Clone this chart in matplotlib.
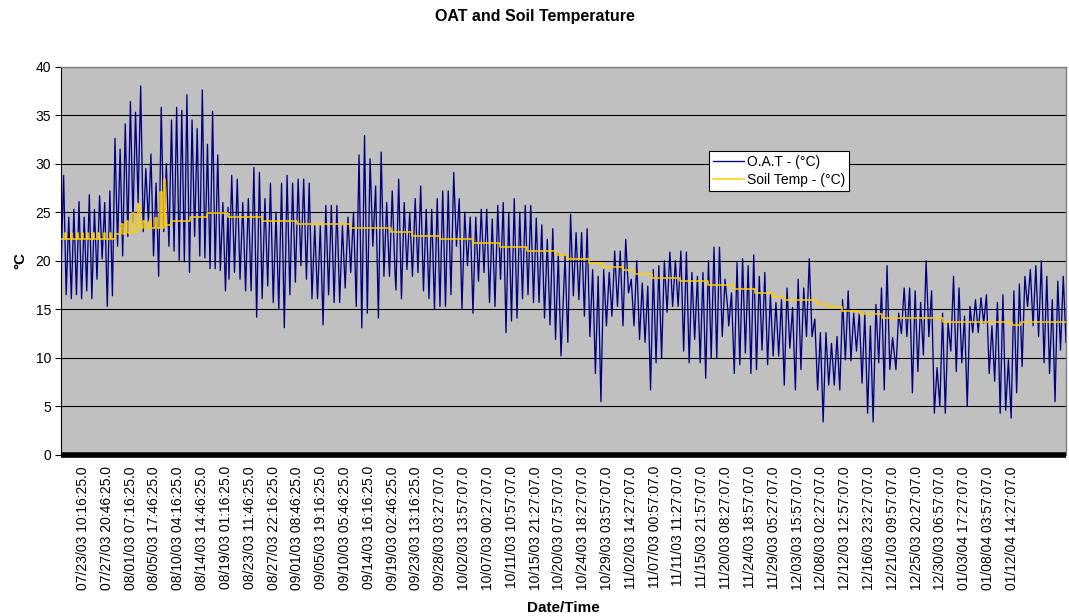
"""OAT vs soil temperature, Jul 2003 - Jan 2004 (Excel-style category chart)."""
import numpy as np
import matplotlib; matplotlib.use("Agg"); import matplotlib.pyplot as plt

plt.rcParams["font.family"] = ["Liberation Sans", "DejaVu Sans"]

# x positions are in units of "label intervals" (one label every 106.5 h of samples)
TICK_LABELS = ["07/23/03 10:16:25.0", "07/27/03 20:46:25.0", "08/01/03 07:16:25.0", "08/05/03 17:46:25.0",
               "08/10/03 04:16:25.0", "08/14/03 14:46:25.0", "08/19/03 01:16:25.0", "08/23/03 11:46:25.0",
               "08/27/03 22:16:25.0", "09/01/03 08:46:25.0", "09/05/03 19:16:25.0", "09/10/03 05:46:25.0",
               "09/14/03 16:16:25.0", "09/19/03 02:46:25.0", "09/23/03 13:16:25.0", "09/28/03 03:27:07.0",
               "10/02/03 13:57:07.0", "10/07/03 00:27:07.0", "10/11/03 10:57:07.0", "10/15/03 21:27:07.0",
               "10/20/03 07:57:07.0", "10/24/03 18:27:07.0", "10/29/03 03:57:07.0", "11/02/03 14:27:07.0",
               "11/07/03 00:57:07.0", "11/11/03 11:27:07.0", "11/15/03 21:57:07.0", "11/20/03 08:27:07.0",
               "11/24/03 18:57:07.0", "11/29/03 05:27:07.0", "12/03/03 15:57:07.0", "12/08/03 02:27:07.0",
               "12/12/03 12:57:07.0", "12/16/03 23:27:07.0", "12/21/03 09:57:07.0", "12/25/03 20:27:07.0",
               "12/30/03 06:57:07.0", "01/03/04 17:27:07.0", "01/08/04 03:57:07.0", "01/12/04 14:27:07.0"]

# O.A.T daily highs/lows, in six consecutive stretches
oat_jul_aug = [19.1, 28.8, 16.5, 24.5, 16.1, 25.3, 16.5, 26.1, 16.1, 24.5, 16.9, 26.8, 16.1, 25.3, 18.1, 26.7,
               20.2, 26.0, 15.3, 27.2, 16.4, 32.6, 21.5, 31.5, 20.5, 34.1, 22.5, 36.4, 24.0, 35.3, 26.0, 38.0,
               23.0, 29.5, 24.0, 31.0, 20.5, 28.0, 18.4, 35.8, 23.0, 30.0, 21.5, 34.5, 21.0, 35.8, 20.0, 35.5,
               19.9, 37.1, 18.8, 34.5, 22.5, 33.6, 20.5, 37.6, 20.3, 32.0, 19.2, 35.4, 19.2, 30.9, 19.0, 26.0,
               16.9, 25.5]
oat_aug_sep = [18.1, 28.8, 18.8, 28.4, 18.1, 26.0, 16.9, 26.4, 16.9, 29.6, 14.2, 29.1, 16.1, 26.4, 17.4, 28.0,
               15.7, 25.0, 15.0, 28.0, 13.1, 28.8, 16.5, 28.0, 17.8, 28.4, 19.5, 28.4, 18.1, 28.0, 16.1, 23.6,
               16.1, 23.6, 13.4, 25.7, 16.5, 25.7, 15.7, 25.7, 15.7, 23.6, 17.2, 24.5, 18.8, 25.0, 15.3, 30.9,
               13.1, 32.9, 14.6, 30.5, 21.5, 27.7, 14.1, 31.2, 18.4, 26.0, 18.4, 27.2, 18.8]
oat_sep_oct = [17.0, 28.4, 16.1, 26.0, 19.1, 25.0, 18.4, 26.4, 18.8, 27.7, 16.9, 25.3, 16.1, 25.3, 15.0, 26.4,
               15.3, 27.2, 15.3, 27.2, 16.5, 29.1, 21.5, 26.4, 15.0, 25.0, 19.5, 24.5, 14.6, 24.5, 17.9, 25.3,
               18.8, 25.3, 15.7, 24.3, 15.3, 25.7, 18.1, 26.0, 12.6, 25.0, 13.8, 26.4, 14.1, 25.0, 16.1, 25.7,
               16.5, 25.7, 15.7, 24.4, 15.7, 23.7, 14.1, 22.2, 13.4, 23.3, 11.9, 20.7, 10.2]
oat_oct_nov = [20.5, 11.6, 24.8, 16.4, 22.9, 16.0, 22.9, 14.3, 23.3, 12.2, 19.1, 8.4, 18.4, 5.5, 19.1, 13.3,
               18.8, 14.3, 21.0, 15.3, 21.0, 13.3, 22.2, 16.7, 18.1, 13.3, 20.0, 11.9, 17.7, 11.6, 17.4, 6.7,
               19.1, 9.5, 19.5, 10.0, 20.0, 14.7, 20.9, 15.3, 20.0, 15.3, 21.0, 10.7, 20.9, 9.5, 18.8, 11.9,
               18.4, 9.5, 18.8, 7.9, 20.0, 10.0, 21.4, 10.0, 21.4, 12.2, 18.1, 15.0]
oat_nov_dec = [13.3, 16.7, 8.4, 19.8, 9.3, 20.2, 10.5, 19.5, 8.4, 20.6, 8.8, 18.4, 10.8, 18.8, 9.3, 16.5,
               10.2, 15.7, 10.2, 16.0, 7.2, 17.2, 11.0, 15.2, 6.7, 18.1, 8.8, 17.2, 12.2, 20.2, 12.2, 14.0,
               6.7, 12.6, 3.4, 12.6, 7.2, 11.5, 7.2, 12.2, 6.7, 16.0, 9.8, 16.9, 9.7, 14.6, 10.7, 14.6,
               7.4, 14.6, 4.3, 13.3, 3.4, 15.5, 9.5, 17.2, 6.7, 19.5, 8.8, 12.1]
oat_dec_jan = [8.8, 14.6, 12.5, 17.2, 12.2, 17.2, 6.4, 16.9, 8.6, 15.7, 10.3, 20.0, 12.2, 16.9, 4.3, 9.0,
               5.0, 14.6, 4.3, 13.6, 10.7, 18.4, 8.6, 17.2, 9.5, 14.3, 5.0, 15.3, 12.6, 16.0, 12.6, 16.2,
               13.6, 16.5, 8.4, 13.3, 7.6, 15.7, 4.3, 16.5, 4.6, 9.8, 3.8, 16.9, 6.4, 17.6, 9.1, 18.4,
               15.3, 19.1, 13.3, 19.5, 12.2, 20.0, 9.5, 18.4, 8.4, 16.0, 5.5, 17.9, 10.8, 18.4, 11.6]
OAT_SEGMENTS = [oat_jul_aug, oat_aug_sep, oat_sep_oct, oat_oct_nov, oat_nov_dec, oat_dec_jan]
# time span (label units) covered by each stretch
OAT_SPANS = [(-0.92, 6.09), (6.13, 13.10), (13.14, 20.07), (20.24, 27.07), (27.11, 33.99), (34.13, 41.27)]

# soil temperature: step changes (label units, deg C)
soil_x = [-0.92, -0.76, -0.70, -0.50, -0.44, -0.25, -0.19, -0.04, 0.02, 0.17, 0.23, 0.42, 0.48, 0.63, 0.69,
          0.88, 0.94, 1.13, 1.19, 1.34, 1.60, 1.68, 1.81, 1.89, 2.06, 2.14, 2.31, 2.39, 2.52, 2.60, 2.77, 2.85,
          3.02, 3.11, 3.23, 3.32, 3.40, 3.46, 3.69, 4.49, 5.21, 6.09, 7.51, 8.98, 11.21, 12.93, 13.81, 14.99,
          16.37, 17.51, 18.64, 19.86, 20.32, 21.24, 21.79, 22.67, 23.17, 23.89, 25.06, 26.24, 27.33, 28.21,
          28.97, 29.47, 30.81, 31.28, 31.86, 32.62, 33.54, 36.10, 39.00, 39.40, 41.27]
soil_y = [22.2, 22.9, 22.2, 22.9, 22.2, 22.9, 22.2, 22.9, 22.2, 22.9, 22.2, 22.9, 22.2, 22.9, 22.2,
          22.9, 22.2, 22.9, 22.2, 22.8, 23.8, 22.8, 24.1, 22.9, 24.9, 23.0, 25.7, 23.4, 24.1, 23.4, 24.1, 23.4,
          24.4, 23.4, 27.1, 23.4, 28.4, 23.7, 24.1, 24.5, 24.9, 24.5, 24.1, 23.8, 23.4, 23.0, 22.6, 22.2,
          21.8, 21.4, 21.0, 20.6, 20.2, 19.8, 19.4, 19.0, 18.6, 18.2, 17.9, 17.5, 17.1, 16.7,
          16.3, 16.0, 15.6, 15.2, 14.8, 14.5, 14.1, 13.7, 13.4, 13.7, 13.7]


def main():
    fig = plt.figure(figsize=(10.69, 6.16), dpi=100)
    ax = fig.add_axes([0.0571, 0.2614, 0.9401, 0.6305])
    ax.set_facecolor("#C0C0C0")

    xs = np.concatenate([np.linspace(a, b, len(seg)) for (a, b), seg in zip(OAT_SPANS, OAT_SEGMENTS)])
    ys = np.concatenate([np.asarray(s, float) for s in OAT_SEGMENTS])
    ax.plot(xs, ys, color="#000080", lw=0.95, label="O.A.T - (°C)", zorder=3)
    ax.plot(soil_x, soil_y, color="#FFCC00", lw=1.1, drawstyle="steps-post", label="Soil Temp - (°C)", zorder=4)

    ax.set_xlim(-0.92, 41.27); ax.set_ylim(0, 40)
    ax.set_yticks(np.arange(0, 41, 5))
    ax.yaxis.grid(True, color="black", lw=0.8); ax.set_axisbelow(True)
    ax.tick_params(axis="y", labelsize=10, length=4, width=0.8, direction="out", pad=3)
    ax.set_xticks(np.arange(len(TICK_LABELS)))
    ax.set_xticklabels(TICK_LABELS, rotation=90, fontsize=10)
    ax.tick_params(axis="x", length=0, pad=8)
    for side in ("top", "right"):
        ax.spines[side].set_color("#808080"); ax.spines[side].set_linewidth(1.0)
    ax.spines["left"].set_linewidth(0.8)
    ax.spines["bottom"].set_linewidth(4.0); ax.spines["bottom"].set_capstyle("butt")

    ax.set_ylabel("°C", fontsize=11, fontweight="bold", labelpad=6)
    ax.set_xlabel("Date/Time", fontsize=11, fontweight="bold", labelpad=8)
    fig.suptitle("OAT and Soil Temperature", fontsize=11.5, fontweight="bold", y=0.985)

    leg = ax.legend(loc="upper left", bbox_to_anchor=(0.645, 0.783), borderaxespad=0, fontsize=10,
                    fancybox=False, framealpha=1, edgecolor="black", handlelength=2.2, handletextpad=0.2,
                    borderpad=0.3, labelspacing=0.25)
    leg.get_frame().set_linewidth(0.8)

    fig.savefig("out.png", dpi=100)
    plt.close(fig)


if __name__ == "__main__":
    main()
